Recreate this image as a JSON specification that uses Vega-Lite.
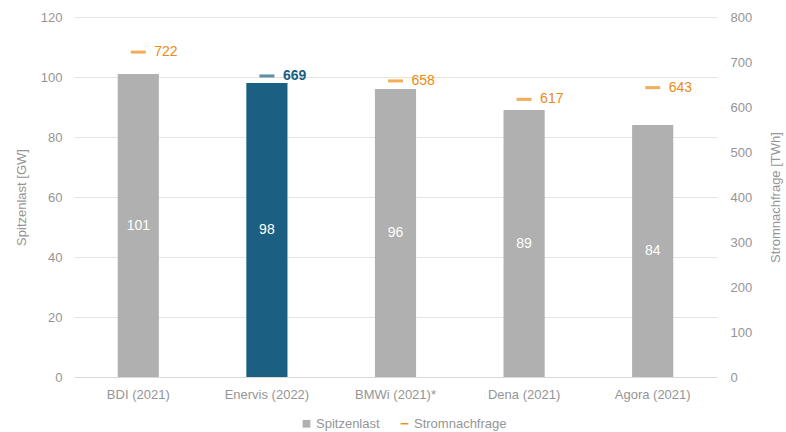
{
  "$schema": "https://vega.github.io/schema/vega-lite/v6.json",
  "autosize": {"type": "none"},
  "width": 643,
  "height": 360,
  "padding": {"left": 74, "top": 17, "right": 69, "bottom": 55},
  "config": {
    "font": "Liberation Sans",
    "view": {"stroke": null},
    "axis": {"labelColor": "#959595", "titleColor": "#959595", "labelFontSize": 13, "titleFontSize": 13, "titleFontWeight": "normal", "ticks": false}
  },
  "data": {
    "values": [
      {"Studie": "BDI (2021)", "Spitzenlast": 101, "Stromnachfrage": 722},
      {"Studie": "Enervis (2022)", "Spitzenlast": 98, "Stromnachfrage": 669},
      {"Studie": "BMWi (2021)*", "Spitzenlast": 96, "Stromnachfrage": 658},
      {"Studie": "Dena (2021)", "Spitzenlast": 89, "Stromnachfrage": 617},
      {"Studie": "Agora (2021)", "Spitzenlast": 84, "Stromnachfrage": 643}
    ]
  },
  "encoding": {
    "x": {
      "field": "Studie", "type": "nominal", "sort": null,
      "scale": {"paddingInner": 0.68, "paddingOuter": 0.34},
      "axis": {"title": null, "labelAngle": 0, "labelPadding": 11, "domain": true, "domainColor": "#d9d9d9", "grid": false}
    }
  },
  "layer": [
    {
      "layer": [
        {
          "mark": {"type": "bar"},
          "encoding": {
            "y": {
              "field": "Spitzenlast", "type": "quantitative",
              "scale": {"domain": [0, 120]},
              "axis": {"title": "Spitzenlast [GW]", "values": [0, 20, 40, 60, 80, 100, 120], "grid": true, "gridColor": "#e4e4e4", "domain": false, "labelPadding": 12, "titlePadding": 12}
            },
            "color": {
              "condition": {"test": "datum.Studie === 'Enervis (2022)'", "value": "#1b5f82"},
              "value": "#b0b0b0"
            }
          }
        },
        {
          "transform": [{"calculate": "datum.Spitzenlast / 2", "as": "mitte"}],
          "mark": {"type": "text", "color": "white", "fontSize": 14, "baseline": "middle"},
          "encoding": {
            "y": {"field": "mitte", "type": "quantitative"},
            "text": {"field": "Spitzenlast", "type": "quantitative"}
          }
        }
      ]
    },
    {
      "layer": [
        {
          "mark": {"type": "tick", "thickness": 3, "size": 15, "orient": "horizontal"},
          "encoding": {
            "y": {
              "field": "Stromnachfrage", "type": "quantitative",
              "scale": {"domain": [0, 800]},
              "axis": {"orient": "right", "title": "Stromnachfrage [TWh]", "titleAngle": 270, "values": [0, 100, 200, 300, 400, 500, 600, 700, 800], "grid": false, "domain": false, "labelPadding": 13, "titlePadding": 31}
            },
            "color": {
              "condition": {"test": "datum.Studie === 'Enervis (2022)'", "value": "#1b5f82"},
              "value": "#ee8a0e"
            }
          }
        },
        {
          "transform": [{"filter": "datum.Studie !== 'Enervis (2022)'"}],
          "mark": {"type": "text", "align": "left", "baseline": "middle", "dx": 16, "fontSize": 14, "color": "#ee8a0e"},
          "encoding": {
            "y": {"field": "Stromnachfrage", "type": "quantitative"},
            "text": {"field": "Stromnachfrage", "type": "quantitative"}
          }
        },
        {
          "transform": [{"filter": "datum.Studie === 'Enervis (2022)'"}],
          "mark": {"type": "text", "align": "left", "baseline": "middle", "dx": 16, "fontSize": 14, "fontWeight": "bold", "color": "#1b5f82"},
          "encoding": {
            "y": {"field": "Stromnachfrage", "type": "quantitative"},
            "text": {"field": "Stromnachfrage", "type": "quantitative"}
          }
        }
      ]
    },
    {
      "data": {"values": [{"Reihe": "Spitzenlast"}, {"Reihe": "Stromnachfrage"}]},
      "mark": {"type": "point", "filled": true, "opacity": 0},
      "encoding": {
        "x": {"value": 0},
        "y": {"value": 0},
        "color": {
          "field": "Reihe", "type": "nominal",
          "scale": {"domain": ["Spitzenlast", "Stromnachfrage"], "range": ["#b0b0b0", "#ee8a0e"]},
          "legend": {"title": null, "orient": "none", "direction": "horizontal", "legendX": 226, "legendY": 400, "labelColor": "#959595", "labelFontSize": 13, "symbolOpacity": 1, "symbolSize": 60, "columnPadding": 18, "labelOffset": 3}
        },
        "shape": {
          "field": "Reihe", "type": "nominal",
          "scale": {"domain": ["Spitzenlast", "Stromnachfrage"], "range": ["square", "M-1,-0.18H1V0.18H-1Z"]},
          "legend": null
        }
      }
    }
  ],
  "resolve": {"scale": {"y": "independent"}}
}
